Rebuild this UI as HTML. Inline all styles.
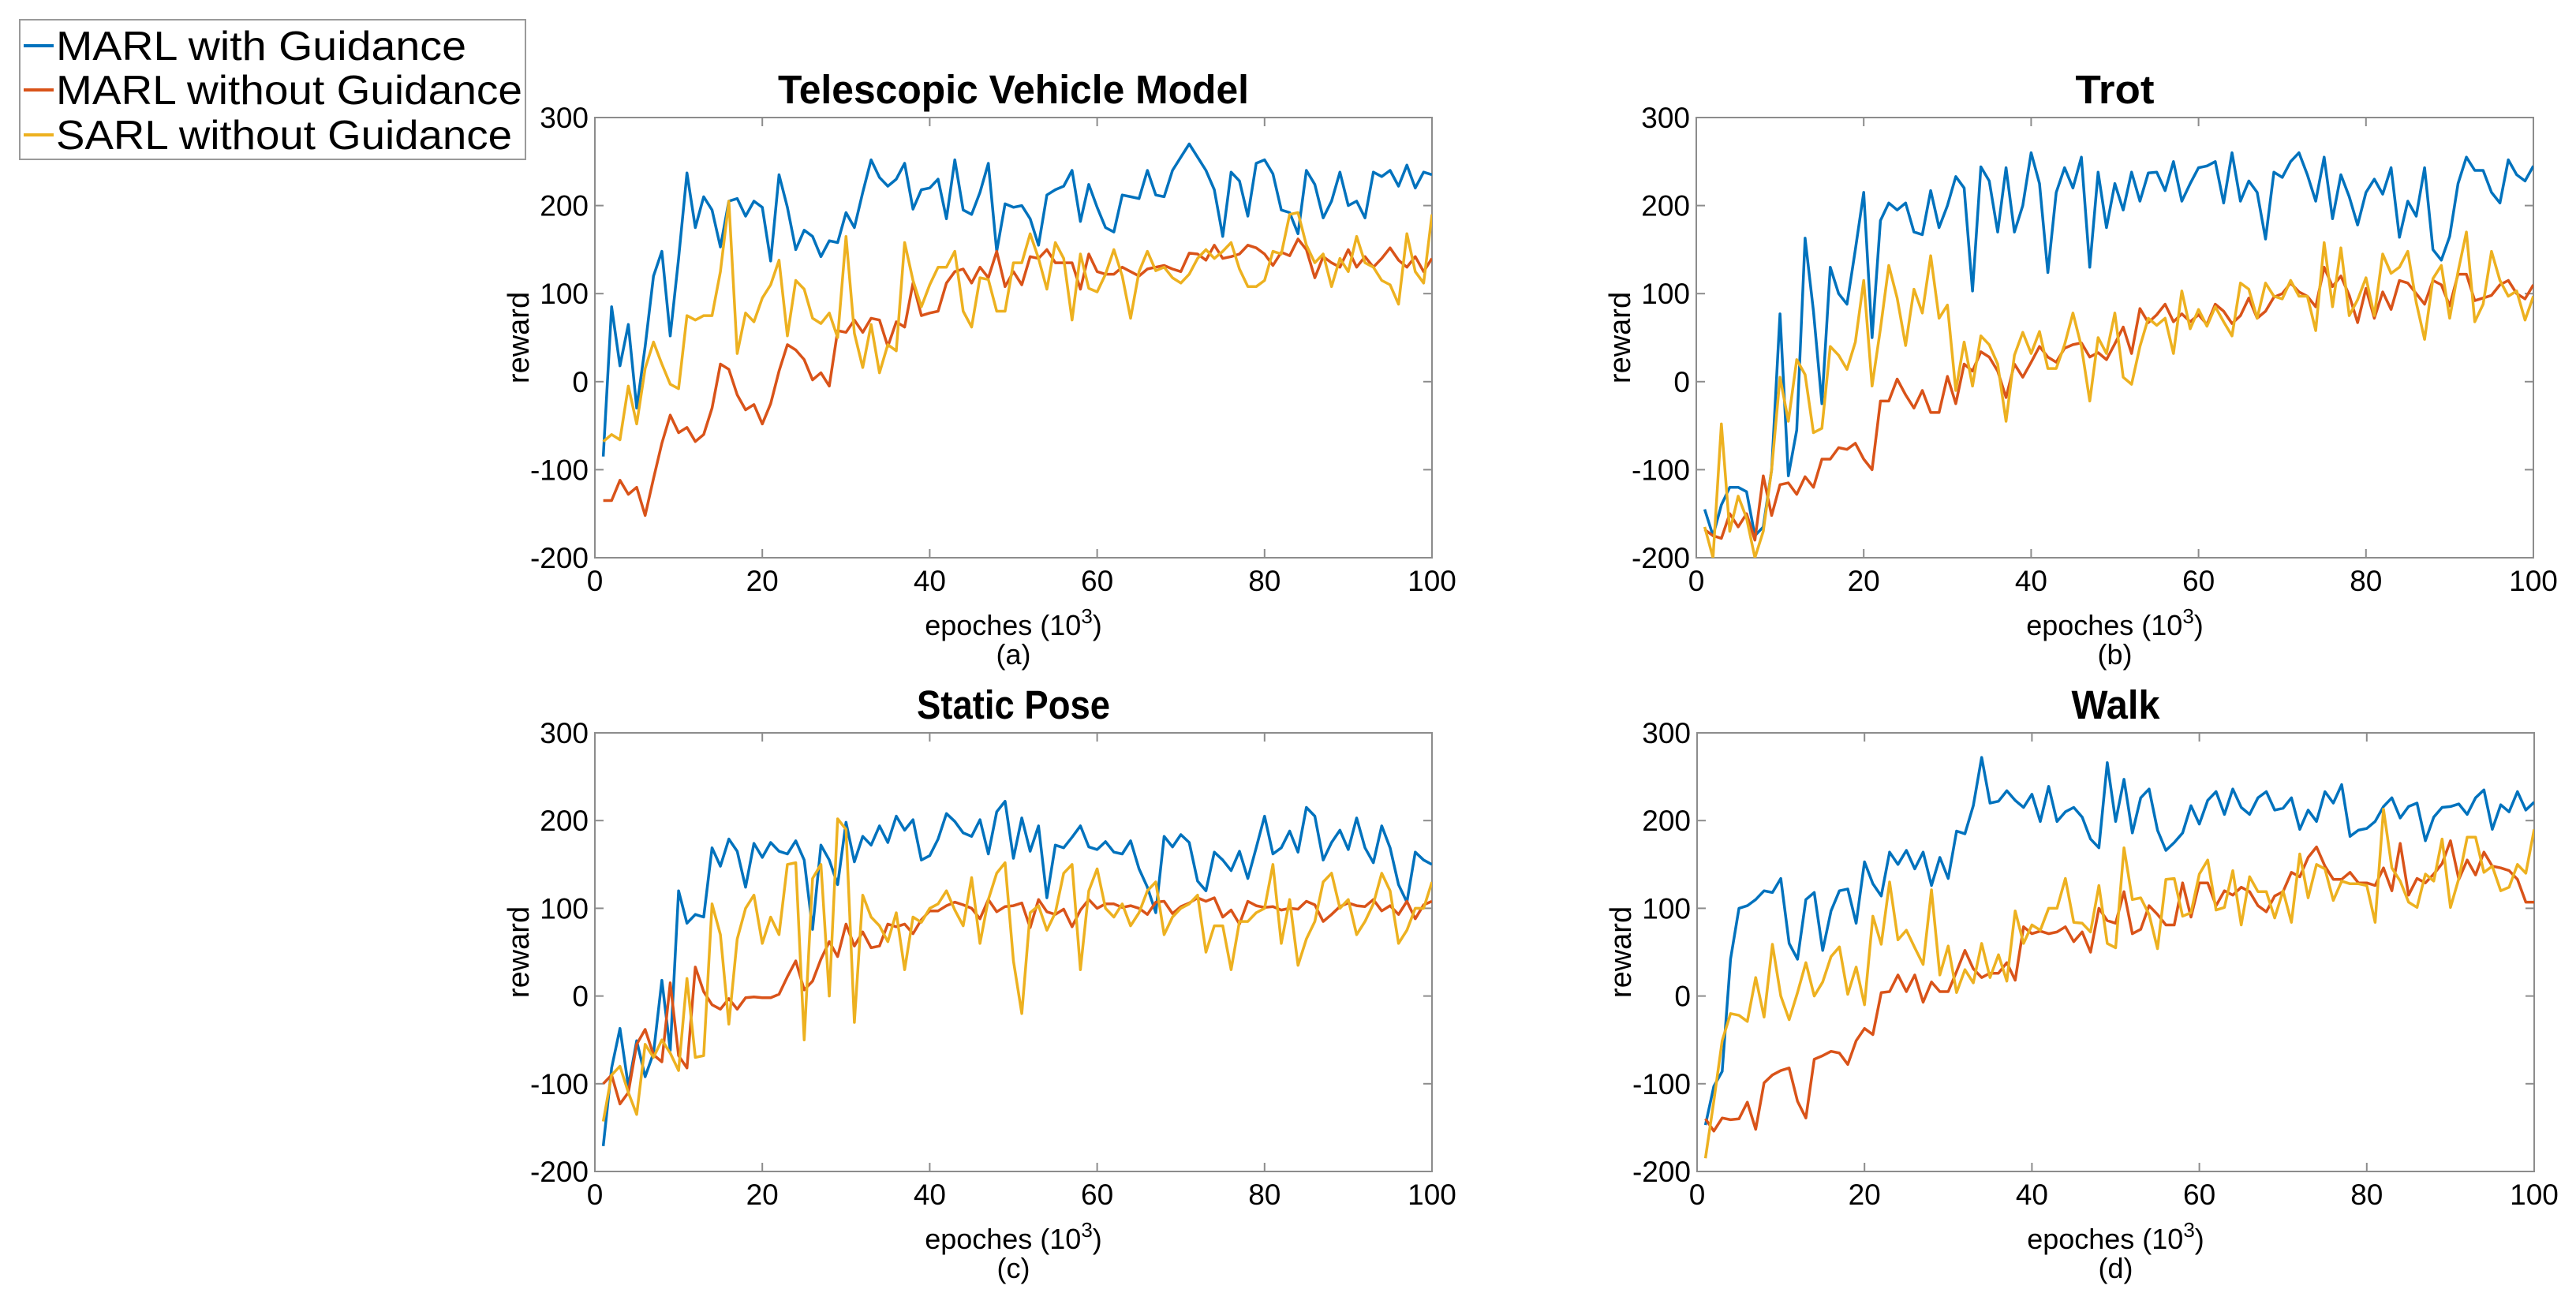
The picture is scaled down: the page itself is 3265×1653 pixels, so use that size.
<!DOCTYPE html>
<html><head><meta charset="utf-8"><style>
html,body{margin:0;padding:0;background:#fff}
svg{display:block}
text{font-family:"Liberation Sans",sans-serif;fill:#000}
</style></head><body>
<svg id="fig" width="3265" height="1653" viewBox="0 0 3265 1653" xmlns="http://www.w3.org/2000/svg">
<g>
<rect x="25" y="25" width="641" height="177" fill="#fff" stroke="#9a9a9a" stroke-width="2"/>
<line x1="30" y1="58" x2="68" y2="58" stroke="#0072BD" stroke-width="4"/>
<text x="71" y="76" font-size="52" textLength="520" lengthAdjust="spacingAndGlyphs">MARL with Guidance</text>
<line x1="30" y1="114" x2="68" y2="114" stroke="#D95319" stroke-width="4"/>
<text x="71" y="132" font-size="52" textLength="591" lengthAdjust="spacingAndGlyphs">MARL without Guidance</text>
<line x1="30" y1="171" x2="68" y2="171" stroke="#EDB120" stroke-width="4"/>
<text x="71" y="189" font-size="52" textLength="578" lengthAdjust="spacingAndGlyphs">SARL without Guidance</text>
</g>
</svg>
<script>
const xTicks=[0,20,40,60,80,100];
const yTicks=[-200,-100,0,100,200,300];
const titles=["Telescopic Vehicle Model","Trot","Static Pose","Walk"];
const titleWidths=[597,100,245,112];
const captions=["(a)","(b)","(c)","(d)"];
const seriesColors=["#0072BD","#D95319","#EDB120"];
const seriesNames=["marl-with-guidance","marl-without-guidance","sarl-without-guidance"];

const aBlue=[-85,85,18,65,-30,40,120,148,52,140,237,175,210,195,153,205,208,188,205,198,137,235,198,150,172,165,142,160,158,192,175,215,252,232,222,230,248,196,218,220,230,185,252,195,190,215,248,148,202,198,200,185,155,212,218,222,240,182,224,198,175,170,212,210,208,240,212,210,240,255,270,255,240,218,165,238,228,188,248,252,236,195,192,168,240,224,186,205,238,200,205,186,238,233,240,222,246,220,238,235];
const aRed=[-135,-135,-112,-128,-120,-152,-110,-70,-38,-58,-52,-68,-60,-30,20,14,-15,-32,-26,-48,-25,12,42,36,25,2,10,-5,58,56,70,56,72,70,40,68,62,112,75,78,80,112,125,128,112,130,118,148,108,125,110,142,140,150,135,135,135,105,145,125,122,122,130,125,120,128,130,132,128,125,146,145,138,155,140,142,145,155,152,145,132,147,143,162,150,118,142,135,130,150,130,142,130,140,152,138,130,142,125,140];
const aYellow=[-68,-60,-66,-5,-48,15,45,20,-3,-8,75,70,75,75,125,205,32,78,68,95,110,138,52,115,105,72,66,78,50,165,55,16,65,10,42,35,158,115,85,110,130,130,148,80,62,118,116,80,80,135,135,168,140,105,158,140,70,145,106,102,122,150,120,72,125,148,126,130,118,112,122,140,150,140,148,158,128,108,108,115,148,145,190,192,155,135,145,108,140,125,165,135,130,115,110,88,168,125,112,190];

const bBlue=[-145,-175,-140,-120,-120,-125,-175,-165,-100,77,-107,-55,163,80,-25,130,100,88,150,215,50,183,203,195,203,170,167,217,175,200,233,220,103,244,228,170,243,170,200,260,225,124,215,243,220,255,130,238,175,225,195,238,205,237,238,217,250,205,225,243,245,250,203,260,205,228,215,162,238,232,250,260,235,205,255,185,235,210,178,215,230,213,243,164,205,188,243,150,138,165,225,255,240,240,215,203,252,235,228,245];
const bRed=[-168,-175,-178,-150,-165,-150,-180,-107,-152,-117,-115,-128,-108,-120,-88,-88,-75,-77,-70,-88,-100,-22,-22,3,-15,-30,-10,-35,-35,6,-25,20,12,34,28,12,-18,20,5,22,40,28,22,38,42,44,28,33,25,43,62,32,83,67,76,88,68,77,68,76,65,88,80,66,75,95,72,80,96,100,112,102,97,85,130,108,120,98,67,106,72,102,82,115,112,100,88,115,110,86,122,122,92,95,98,110,115,100,94,110];
const bYellow=[-165,-200,-48,-170,-130,-155,-200,-170,-100,5,-45,25,8,-58,-53,40,30,14,45,115,-5,60,132,95,41,105,78,143,72,87,-10,45,-5,52,42,20,-45,30,56,32,57,15,15,42,78,40,-22,50,32,78,5,-3,40,72,64,72,32,103,60,82,63,85,68,52,112,105,72,112,97,94,115,97,97,58,158,85,152,75,93,118,75,145,123,130,148,90,48,117,132,72,125,170,68,88,148,115,97,103,70,97];

const cBlue=[-171,-82,-37,-103,-51,-92,-65,18,-62,120,83,93,90,169,148,179,165,124,174,158,175,165,162,177,155,76,172,155,127,198,153,182,172,194,175,205,189,201,155,160,179,208,199,186,182,201,162,210,222,157,203,165,194,112,172,169,181,194,170,167,176,164,162,177,145,124,95,182,170,184,175,131,120,164,155,143,165,134,169,205,162,169,188,164,215,205,155,175,189,167,203,169,152,194,169,127,107,164,155,150];
const cRed=[-100,-90,-123,-110,-55,-38,-67,-75,15,-68,-82,33,5,-10,-15,-3,-15,-2,-1,-2,-2,2,22,40,7,17,42,62,45,82,57,73,55,57,82,79,82,71,87,97,97,103,107,104,100,88,110,96,102,103,106,78,110,96,93,99,79,98,110,100,105,105,101,103,100,93,107,108,94,102,106,112,108,112,90,98,82,108,103,101,102,98,100,99,108,104,85,93,102,106,103,102,110,97,103,93,108,88,104,108];
const cYellow=[-143,-90,-80,-110,-135,-55,-70,-50,-65,-85,20,-70,-68,105,70,-32,65,100,115,60,90,70,150,152,-50,134,150,0,202,190,-30,115,90,80,62,95,30,90,84,100,105,120,98,80,135,60,110,140,152,40,-20,95,103,75,95,140,150,30,120,145,100,90,105,80,95,120,130,70,90,100,105,115,50,80,80,30,85,85,95,100,150,60,110,35,65,85,130,140,100,110,70,85,105,140,120,60,75,100,100,130];

const dBlue=[-147,-103,-86,42,100,103,110,120,118,134,60,42,110,118,52,97,120,122,83,153,128,114,164,150,166,145,164,126,158,134,188,185,217,272,220,222,234,223,215,230,199,239,199,210,215,204,179,169,266,199,247,186,226,236,189,166,175,186,217,196,223,233,207,236,215,207,226,233,212,214,226,190,212,199,233,220,241,182,189,191,199,216,226,203,216,220,177,204,215,216,219,207,226,235,190,218,210,233,212,221];
const dRed=[-140,-154,-139,-141,-140,-121,-152,-99,-90,-85,-82,-120,-139,-72,-68,-63,-65,-78,-51,-37,-44,4,5,24,5,24,-7,16,5,5,28,52,31,21,26,26,38,18,79,71,74,71,73,79,62,73,50,100,86,83,119,71,76,103,93,81,81,129,90,129,129,103,120,115,124,119,103,96,114,119,141,136,158,170,148,133,133,141,129,129,126,146,120,174,115,134,129,139,151,177,133,155,138,164,148,146,143,133,107,107];
const dYellow=[-185,-120,-51,-20,-22,-29,21,-24,59,0,-27,4,38,0,16,45,56,2,33,-10,91,59,130,64,75,55,36,121,24,57,4,30,15,60,21,47,17,97,60,81,75,100,100,134,84,83,73,126,60,55,169,110,112,93,54,133,134,91,95,139,155,98,101,143,81,136,119,119,89,120,84,162,112,150,145,109,131,128,128,126,84,213,146,131,107,101,139,131,179,101,134,181,181,141,148,120,124,150,140,190];

const panels=[
 {L:754,R:1815,T:149,B:707,data:[aBlue,aRed,aYellow]},
 {L:2150,R:3211,T:149,B:707,data:[bBlue,bRed,bYellow]},
 {L:754,R:1815,T:929,B:1485,data:[cBlue,cRed,cYellow]},
 {L:2151,R:3212,T:929,B:1485,data:[dBlue,dRed,dYellow]}
];
const NS="http://www.w3.org/2000/svg";
const svg=document.getElementById('fig');
function mk(tag,attrs,parent){const e=document.createElementNS(NS,tag);for(const k in attrs)e.setAttribute(k,attrs[k]);parent.appendChild(e);return e;}
panels.forEach((p,i)=>{
 const xs=v=>p.L+(v-0)/(100-0)*(p.R-p.L);
 const ys=v=>p.B-(v+200)/500*(p.B-p.T);
 const g=mk('g',{},svg);
 
 
 const clip=mk('clipPath',{id:'clip'+i},g);
 mk('rect',{x:p.L,y:p.T,width:p.R-p.L,height:p.B-p.T},clip);
 const box=mk('rect',{x:p.L,y:p.T,width:p.R-p.L,height:p.B-p.T,fill:'none',stroke:'#8c8c8c','stroke-width':2},g);
 
 
 xTicks.forEach(t=>{
  const x=xs(t);
  mk('line',{x1:x,y1:p.B,x2:x,y2:p.B-11,stroke:'#8c8c8c','stroke-width':2},g);
  mk('line',{x1:x,y1:p.T,x2:x,y2:p.T+11,stroke:'#8c8c8c','stroke-width':2},g);
  const tx=mk('text',{x:x,y:p.B+42,'font-size':37,'text-anchor':'middle'},g);
  tx.textContent=t;
  
  
 });
 yTicks.forEach(t=>{
  const y=ys(t);
  mk('line',{x1:p.L,y1:y,x2:p.L+11,y2:y,stroke:'#8c8c8c','stroke-width':2},g);
  mk('line',{x1:p.R,y1:y,x2:p.R-11,y2:y,stroke:'#8c8c8c','stroke-width':2},g);
  const ty=mk('text',{x:p.L-8,y:y+13,'font-size':37,'text-anchor':'end'},g);
  ty.textContent=t;
  
  
 });
 const cx=(p.L+p.R)/2;
 const title=mk('text',{x:cx,y:p.T-18,'font-size':51,'font-weight':'bold','text-anchor':'middle',textLength:titleWidths[i],lengthAdjust:'spacingAndGlyphs'},g);
 title.textContent=titles[i];
 
 
 const xl=mk('text',{x:cx,y:p.B+98,'font-size':36,'text-anchor':'middle'},g);
 xl.innerHTML='epoches (10<tspan dy="-15" font-size="26">3</tspan><tspan dy="15">)</tspan>';
 
 
 const cap=mk('text',{x:cx,y:p.B+135,'font-size':36,'text-anchor':'middle'},g);
 cap.textContent=captions[i];
 
 
 const yl=mk('text',{x:0,y:0,'font-size':38,'text-anchor':'middle',transform:`translate(${p.L-84},${(p.T+p.B)/2}) rotate(-90)`},g);
 yl.textContent='reward';
 
 
 const lg=mk('g',{'clip-path':`url(#clip${i})`},g);
 p.data.forEach((arr,s)=>{
  const pts=arr.map((v,k)=>xs(k+1).toFixed(1)+','+ys(v).toFixed(1)).join(' ');
  const pl=mk('polyline',{points:pts,fill:'none',stroke:seriesColors[s],'stroke-width':3.5,'stroke-linejoin':'round'},lg);
  
  
 });
});
</script>
</body></html>
